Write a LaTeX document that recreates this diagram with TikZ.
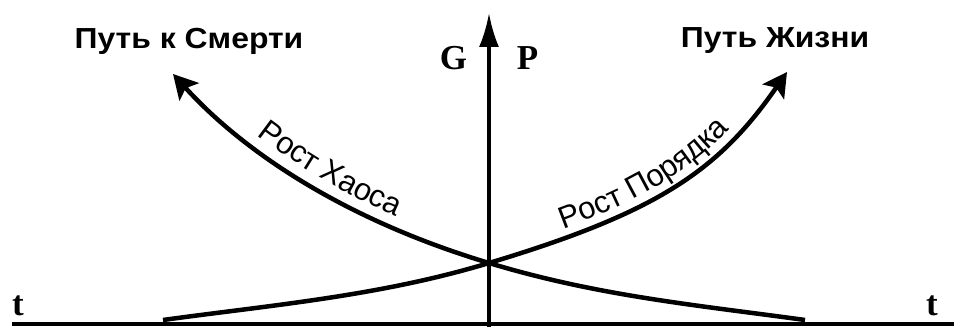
\documentclass[tikz,border=0pt]{standalone}
\usepackage{fontspec}
\setmainfont{Liberation Sans}
\newfontfamily\titlefont{Liberation Sans}[FakeStretch=1.1]
\newfontfamily\timesbf{Liberation Serif}
\usetikzlibrary{arrows.meta,decorations.text}
\newcommand\growfont{\fontsize{31}{33}\selectfont}

\begin{document}
\begin{tikzpicture}[x=1pt,y=1pt,
  curve/.style={line width=4.5pt},
  axis/.style={line width=3.5pt},
  title/.style={font=\titlefont\bfseries\fontsize{29}{31}\selectfont, anchor=base, inner sep=0pt},
  letter/.style={font=\timesbf\bfseries\fontsize{35}{36}\selectfont, anchor=base, inner sep=0pt}]
\useasboundingbox (0,0) rectangle (954,327);
\coordinate (cross) at (489,64);
\coordinate (orderstart) at (163,7);
\coordinate (ordertip) at (787,255);
\coordinate (chaosstart) at (805,7);
\coordinate (chaostip) at (173,253);
\coordinate (tleft) at (12,3);
\coordinate (tright) at (954,3);
\coordinate (pbase) at (489,0);
\coordinate (ptip) at (489,314);

\draw[axis] (tleft) -- (tright);
\draw[axis, -{Latex[length=34pt,width=20pt]}] (pbase) -- (ptip);
\draw[curve, -{Stealth[length=24pt,width=26pt,inset=5pt]}] (orderstart) .. controls (272,22) and (380,31) .. (cross) .. controls (659,115) and (719,157) .. (ordertip);
\draw[curve, -{Stealth[length=24pt,width=26pt,inset=5pt]}] (chaosstart) .. controls (696,22) and (598,31) .. (cross) .. controls (339,109) and (240,179) .. (chaostip);

\path[decorate, decoration={text along path, text={|\growfont|Рост Порядка}, text align=center, raise=9pt}] (cross) .. controls (659,115) and (719,157) .. (ordertip);
\path[decorate, decoration={text along path, text={|\growfont|Рост Хаоса}, text align=center, raise=12pt}] (chaostip) .. controls (240,179) and (339,109) .. (cross);

\node[title] (death) at (189,278) {Путь к Смерти};
\node[title] (life) at (775,279) {Путь Жизни};
\node[letter] (g) at (453.5,257) {G};
\node[letter] (p) at (527.5,257) {P};
\node[letter] (tl) at (18,12) {t};
\node[letter] (tr) at (932,12) {t};
\end{tikzpicture}
\end{document}
